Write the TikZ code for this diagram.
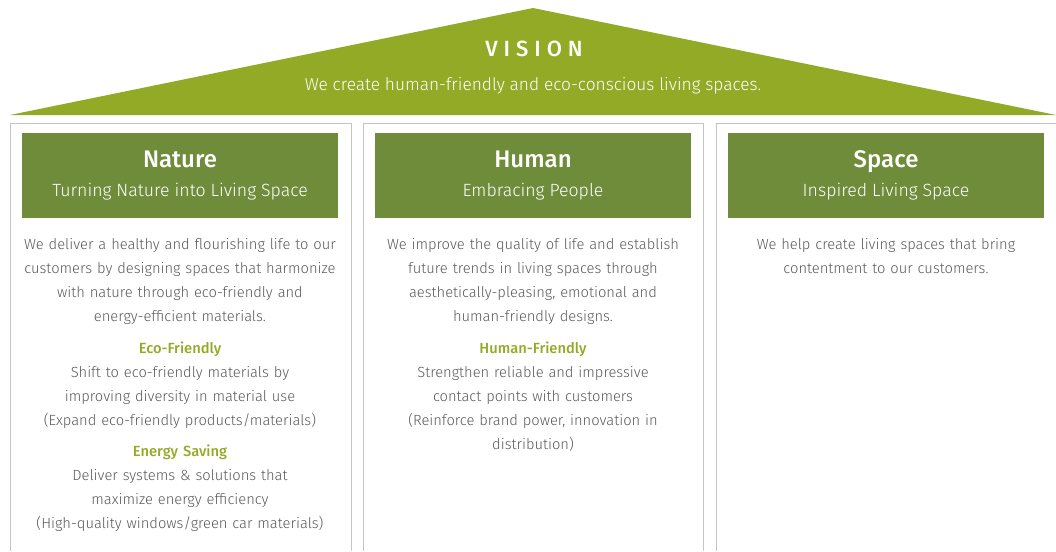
\documentclass[tikz,border=0pt]{standalone}
\usepackage{fontspec}
\setmainfont{Fira Sans}[UprightFont=* Light, BoldFont=* Medium]
\usetikzlibrary{positioning}

\definecolor{roofgreen}{HTML}{93AA26}
\definecolor{headgreen}{HTML}{6F8C3A}
\definecolor{bodygray}{HTML}{595959}
\definecolor{framegray}{HTML}{C4C4C4}

\newcommand{\headtitle}[1]{{\fontsize{24}{24}\selectfont\bfseries\vphantom{Ngp}#1}}
\newcommand{\headsub}[1]{{\fontsize{17.7}{18}\selectfont\vphantom{Tgp}#1}}

\begin{document}
\begin{tikzpicture}[%
    x=1pt, y=-1pt,
    frame/.style={draw=framegray, line width=1pt},
    head/.style={fill=headgreen, text=white, minimum width=316pt,
      minimum height=85pt, align=center, inner sep=0pt},
    body/.style={text=bodygray, align=center, text width=330pt,
      inner sep=0pt, font=\fontsize{14.7}{24}\selectfont}
  ]
  \useasboundingbox (0,0) rectangle (1056,551);

  % roof
  \fill[roofgreen] (10,115) -- (533,8) -- (1056,115) -- cycle;
  \node[text=white, font=\fontsize{22}{22}\selectfont\bfseries\addfontfeature{LetterSpace=27}] (vision) at (534,49) {VISION};
  \node[text=white, font=\fontsize{17.3}{17}\selectfont] (visiontext) at (533,86) {We create human-friendly and eco-conscious living spaces.};

  % columns
  \draw[frame] (10,551) -- (10,123.5) -- (351,123.5) -- (351,551);
  \draw[frame] (363,551) -- (363,123.5) -- (703,123.5) -- (703,551);
  \draw[frame] (716,551) -- (716,123.5) -- (1056,123.5) -- (1056,551);

  \node[head] (nature) at (180,175.5) {\headtitle{Nature}\\[9pt]\headsub{Turning Nature into Living Space}\rule[-3.5pt]{0pt}{0pt}};
  \node[head] (human) at (533,175.5) {\headtitle{Human}\\[9pt]\headsub{Embracing People}\rule[-3.5pt]{0pt}{0pt}};
  \node[head] (space) at (886,175.5) {\headtitle{Space}\\[9pt]\headsub{Inspired Living Space}\rule[-3.5pt]{0pt}{0pt}};

  \node[body, below=20pt of nature] (naturebody) {%
    We deliver a healthy and flourishing life to our\\
    customers by designing spaces that harmonize\\
    with nature through eco-friendly and\\
    energy-efficient materials.\\[8pt]
    {\color{roofgreen}\bfseries Eco-Friendly}\\
    Shift to eco-friendly materials by\\
    improving diversity in material use\\
    (Expand eco-friendly products/materials)\\[7pt]
    {\color{roofgreen}\bfseries Energy Saving}\\
    Deliver systems \& solutions that\\
    maximize energy efficiency\\
    (High-quality windows/green car materials)};
  \node[body, below=20pt of human] (humanbody) {%
    We improve the quality of life and establish\\
    future trends in living spaces through\\
    aesthetically-pleasing, emotional and\\
    human-friendly designs.\\[8pt]
    {\color{roofgreen}\bfseries Human-Friendly}\\
    Strengthen reliable and impressive\\
    contact points with customers\\
    (Reinforce brand power, innovation in\\
    distribution)};
  \node[body, below=20pt of space] (spacebody) {%
    We help create living spaces that bring\\
    contentment to our customers.};
\end{tikzpicture}
\end{document}
